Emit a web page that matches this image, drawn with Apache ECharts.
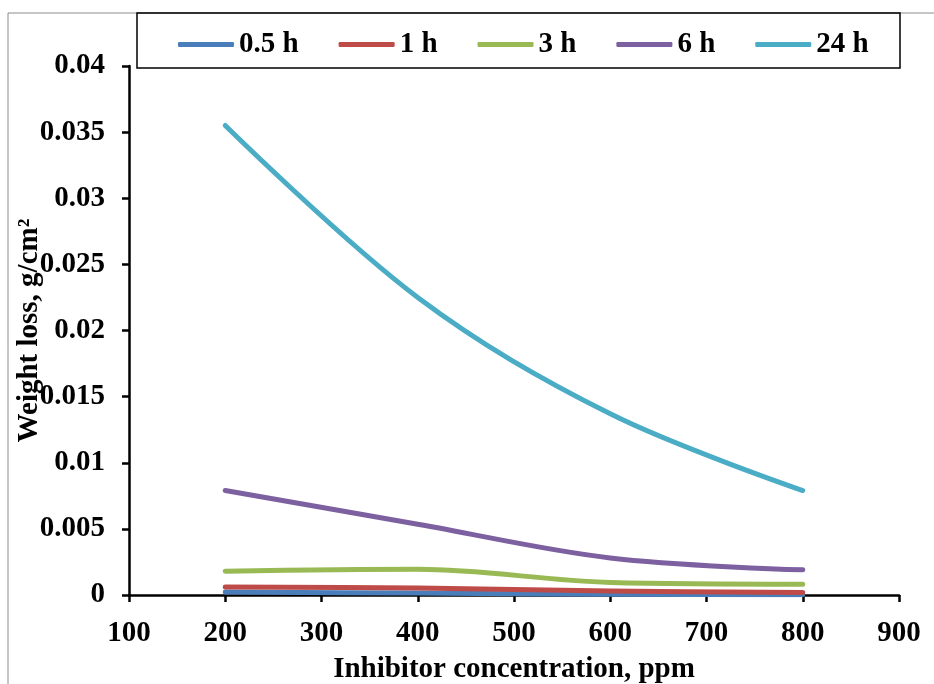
<!DOCTYPE html>
<html>
<head>
<meta charset="utf-8">
<script src="https://cdn.jsdelivr.net/npm/echarts@6/dist/echarts.min.js"></script>
<style>
  html, body { margin: 0; padding: 0; background: #fff; }
  #chart { width: 934px; height: 684px; }
</style>
</head>
<body>
<div id="chart"></div>
<script>
// Inhibitor concentration (ppm) at which weight loss was measured
const concentrations = [200, 400, 600, 800];

// Weight loss (g/cm²) for each immersion time
const loss05h = [0.00022, 0.00015, 0.00006, 0.00002];
const loss1h  = [0.00060, 0.00052, 0.00030, 0.00018];
const loss3h  = [0.00180, 0.00195, 0.00095, 0.00082];
const loss6h  = [0.00790, 0.00535, 0.00280, 0.00190];
const loss24h = [0.03550, 0.02250, 0.01370, 0.00790];

const seriesNames = ['0.5 h', '1 h', '3 h', '6 h', '24 h'];
const seriesValues = [loss05h, loss1h, loss3h, loss6h, loss24h];
const seriesColors = ['#4A7EBB', '#BE4B48', '#98B954', '#7D60A0', '#4BACC6'];

const FONT = '"Liberation Serif", "Times New Roman", serif';
const FS = 29;

const chart = echarts.init(document.getElementById('chart'), null, { renderer: 'canvas' });

const series = seriesNames.map((name, i) => ({
  name,
  type: 'line',
  smooth: 0.35,
  showSymbol: false,
  symbol: 'none',
  color: seriesColors[i],
  lineStyle: { width: 5, color: seriesColors[i], cap: 'round', join: 'round' },
  data: concentrations.map((c, j) => [c, seriesValues[i][j]])
}));

chart.setOption({
  animation: false,
  backgroundColor: '#fff',
  textStyle: { fontFamily: FONT },
  grid: { left: 129, right: 35, top: 66, bottom: 89, containLabel: false, outerBoundsMode: 'none' },
  legend: {
    left: 178,
    top: 30,
    padding: 0,
    itemWidth: 56,
    itemHeight: 5,
    itemGap: 40,
    icon: 'roundRect',
    textStyle: { fontFamily: FONT, fontWeight: 'bold', fontSize: FS, color: '#000' },
    data: seriesNames
  },
  xAxis: {
    type: 'value',
    min: 100,
    max: 900,
    interval: 100,
    name: 'Inhibitor concentration, ppm',
    nameLocation: 'middle',
    nameGap: 60,
    nameMoveOverlap: false,
    nameTextStyle: { fontFamily: FONT, fontWeight: 'bold', fontSize: FS, color: '#000' },
    axisLine: { show: true, onZero: false, lineStyle: { color: '#000', width: 2.5 } },
    axisTick: { show: true, inside: false, length: 7, lineStyle: { color: '#000', width: 2.5 } },
    axisLabel: { margin: 24, fontFamily: FONT, fontWeight: 'bold', fontSize: FS, color: '#000' },
    splitLine: { show: false }
  },
  yAxis: {
    type: 'value',
    min: 0,
    max: 0.04,
    interval: 0.005,
    name: 'Weight loss, g/cm²',
    nameLocation: 'middle',
    nameGap: 85,
    nameMoveOverlap: false,
    nameTextStyle: { fontFamily: FONT, fontWeight: 'bold', fontSize: FS, color: '#000' },
    axisLine: { show: true, lineStyle: { color: '#000', width: 2.5 } },
    axisTick: { show: true, inside: false, length: 7, lineStyle: { color: '#000', width: 2.5 } },
    axisLabel: { margin: 24, fontFamily: FONT, fontWeight: 'bold', fontSize: FS, color: '#000' },
    splitLine: { show: false }
  },
  graphic: [
    // outer frame (top and left edges)
    { type: 'line', shape: { x1: 8, y1: 13, x2: 934, y2: 13 }, style: { stroke: '#8c8c8c', lineWidth: 1 }, z: 1 },
    { type: 'line', shape: { x1: 8, y1: 13, x2: 8, y2: 684 }, style: { stroke: '#8c8c8c', lineWidth: 1 }, z: 1 },
    // legend frame
    { type: 'rect', shape: { x: 137, y: 13, width: 763, height: 55 }, style: { fill: 'none', stroke: '#000', lineWidth: 1.5 }, z: 2 }
  ],
  series
});
</script>
</body>
</html>
